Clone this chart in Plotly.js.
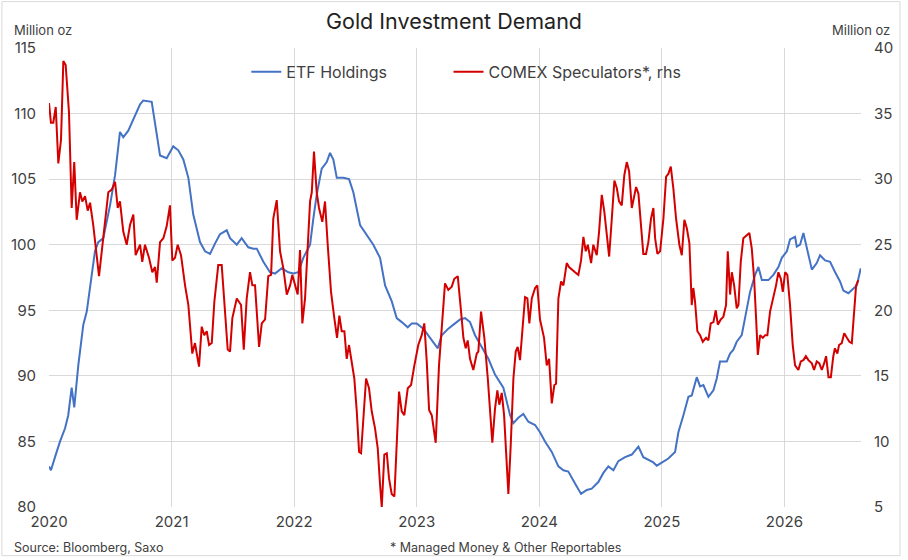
<!DOCTYPE html>
<html>
<head>
<meta charset="utf-8">
<script src="https://cdn.plot.ly/plotly-3.0.1.min.js"></script>
<style>
html,body{margin:0;padding:0;background:#fff;}
#chart{width:908px;height:560px;}
</style>
</head>
<body>
<div id="chart"></div>
<script>
// ETF holdings (Million oz, left axis) - decimal years
const etfYears = [2020.000,2020.016,2020.049,2020.090,2020.131,2020.157,2020.185,2020.206,2020.239,2020.280,2020.308,2020.348,2020.375,2020.402,2020.443,2020.498,2020.539,2020.579,2020.606,2020.647,2020.688,2020.743,2020.769,2020.838,2020.906,2020.960,2021.014,2021.055,2021.096,2021.137,2021.177,2021.232,2021.273,2021.314,2021.355,2021.395,2021.450,2021.477,2021.532,2021.572,2021.626,2021.667,2021.695,2021.749,2021.803,2021.844,2021.899,2021.953,2021.993,2022.034,2022.075,2022.130,2022.157,2022.184,2022.225,2022.266,2022.293,2022.320,2022.348,2022.401,2022.448,2022.483,2022.538,2022.592,2022.646,2022.701,2022.742,2022.796,2022.837,2022.878,2022.927,2022.960,2023.000,2023.054,2023.123,2023.172,2023.204,2023.258,2023.313,2023.354,2023.395,2023.435,2023.476,2023.531,2023.585,2023.639,2023.707,2023.762,2023.789,2023.829,2023.870,2023.911,2023.966,2024.006,2024.047,2024.102,2024.156,2024.197,2024.237,2024.292,2024.341,2024.388,2024.428,2024.482,2024.523,2024.564,2024.605,2024.645,2024.700,2024.755,2024.809,2024.849,2024.890,2024.931,2024.959,2025.013,2025.053,2025.108,2025.135,2025.176,2025.217,2025.244,2025.285,2025.312,2025.339,2025.380,2025.421,2025.448,2025.475,2025.530,2025.557,2025.584,2025.611,2025.652,2025.679,2025.720,2025.761,2025.788,2025.816,2025.869,2025.910,2025.951,2025.979,2026.020,2026.046,2026.087,2026.101,2026.128,2026.155,2026.183,2026.224,2026.264,2026.291,2026.332,2026.373,2026.414,2026.454,2026.481,2026.522,2026.550,2026.591,2026.623];
const etfValues = [83.1,82.8,83.8,85.0,86.0,87.0,89.1,87.6,90.8,93.9,94.9,97.9,99.5,100.2,100.5,103.0,105.3,108.6,108.2,108.7,109.5,110.7,111.0,110.9,106.8,106.6,107.5,107.2,106.5,105.1,102.3,100.2,99.5,99.3,100.1,100.8,101.1,100.5,100.0,100.5,99.8,99.7,99.7,98.7,97.9,97.8,98.2,97.9,97.8,97.9,99.0,100.0,102.0,103.8,105.8,106.3,107.0,106.5,105.1,105.1,105.0,104.0,101.5,100.7,100.0,99.0,96.9,95.7,94.4,94.1,93.7,94.0,94.0,93.6,92.7,92.1,93.1,93.6,94.0,94.3,94.4,94.1,93.1,92.2,91.3,90.1,89.1,87.0,86.4,86.8,87.1,86.5,86.25,85.7,85.0,84.2,83.1,82.8,82.7,81.8,81.0,81.3,81.4,81.9,82.6,83.1,82.8,83.5,83.8,84.0,84.6,83.8,83.6,83.4,83.15,83.5,83.7,84.2,85.7,87.0,88.4,88.5,89.9,89.2,89.3,88.4,88.9,89.8,91.1,91.1,91.7,92.0,92.6,93.1,94.4,96.4,97.7,98.3,97.3,97.3,97.7,98.3,99.0,99.5,100.4,100.6,99.85,100.0,100.9,99.85,98.1,98.6,99.2,98.8,98.7,97.9,97.2,96.5,96.3,96.55,96.9,98.2];

// COMEX speculators (Million oz, right axis) - decimal years
const comexYears = [2020.000,2020.016,2020.035,2020.055,2020.076,2020.098,2020.117,2020.136,2020.163,2020.185,2020.206,2020.226,2020.253,2020.272,2020.294,2020.316,2020.335,2020.361,2020.408,2020.451,2020.484,2020.512,2020.539,2020.561,2020.579,2020.606,2020.634,2020.661,2020.688,2020.707,2020.743,2020.761,2020.783,2020.816,2020.843,2020.865,2020.879,2020.906,2020.933,2020.960,2020.987,2021.006,2021.028,2021.050,2021.077,2021.110,2021.137,2021.169,2021.191,2021.224,2021.246,2021.267,2021.287,2021.306,2021.328,2021.349,2021.381,2021.409,2021.436,2021.458,2021.477,2021.496,2021.532,2021.567,2021.589,2021.613,2021.640,2021.659,2021.681,2021.714,2021.736,2021.763,2021.789,2021.812,2021.830,2021.858,2021.885,2021.912,2021.940,2021.967,2021.985,2022.007,2022.029,2022.048,2022.067,2022.089,2022.111,2022.130,2022.144,2022.162,2022.184,2022.203,2022.230,2022.252,2022.274,2022.301,2022.328,2022.350,2022.369,2022.388,2022.410,2022.429,2022.448,2022.470,2022.491,2022.511,2022.530,2022.546,2022.565,2022.587,2022.611,2022.633,2022.660,2022.682,2022.701,2022.715,2022.736,2022.756,2022.774,2022.796,2022.818,2022.837,2022.856,2022.878,2022.899,2022.927,2022.954,2022.981,2023.013,2023.041,2023.062,2023.082,2023.101,2023.123,2023.155,2023.182,2023.209,2023.231,2023.258,2023.286,2023.307,2023.335,2023.362,2023.381,2023.400,2023.416,2023.435,2023.462,2023.490,2023.503,2023.525,2023.552,2023.580,2023.598,2023.617,2023.639,2023.658,2023.674,2023.694,2023.713,2023.729,2023.748,2023.767,2023.789,2023.808,2023.824,2023.843,2023.862,2023.884,2023.903,2023.919,2023.939,2023.966,2023.984,2024.006,2024.039,2024.061,2024.080,2024.102,2024.123,2024.137,2024.156,2024.178,2024.197,2024.224,2024.243,2024.265,2024.292,2024.319,2024.341,2024.360,2024.379,2024.396,2024.423,2024.441,2024.469,2024.488,2024.510,2024.531,2024.551,2024.570,2024.592,2024.613,2024.633,2024.651,2024.673,2024.694,2024.714,2024.733,2024.755,2024.773,2024.790,2024.809,2024.828,2024.849,2024.871,2024.890,2024.912,2024.931,2024.945,2024.964,2024.986,2025.013,2025.035,2025.053,2025.073,2025.094,2025.116,2025.143,2025.163,2025.184,2025.204,2025.225,2025.244,2025.257,2025.271,2025.290,2025.312,2025.334,2025.361,2025.380,2025.399,2025.421,2025.440,2025.457,2025.481,2025.502,2025.524,2025.538,2025.557,2025.571,2025.590,2025.611,2025.625,2025.644,2025.665,2025.693,2025.714,2025.734,2025.753,2025.769,2025.783,2025.802,2025.824,2025.843,2025.861,2025.883,2025.910,2025.932,2025.951,2025.971,2025.987,2026.006,2026.024,2026.046,2026.068,2026.087,2026.114,2026.134,2026.155,2026.175,2026.196,2026.224,2026.242,2026.264,2026.285,2026.305,2026.324,2026.340,2026.360,2026.379,2026.399,2026.412,2026.432,2026.446,2026.468,2026.488,2026.510,2026.530,2026.550,2026.569,2026.585,2026.603];
const comexValues = [35.8,34.3,34.3,35.5,31.2,33.0,39.0,38.7,35.1,27.8,31.3,26.9,29.0,28.3,28.7,27.6,28.2,26.5,22.6,26.5,29.0,29.2,29.8,27.8,28.3,26.0,25.0,26.5,27.3,24.2,25.0,23.7,25.0,24.0,22.9,23.3,22.1,25.2,25.5,26.4,28.0,23.8,24.0,25.0,24.2,21.9,20.4,16.7,17.5,15.7,18.75,18.1,18.4,17.35,17.5,20.65,23.45,23.45,19.9,17.0,16.85,19.4,20.9,20.4,17.0,20.9,22.9,21.9,21.9,17.2,19.0,19.3,22.6,22.7,27.0,28.4,24.5,23.2,21.2,21.9,22.7,21.9,21.2,24.6,19.0,20.9,24.5,28.3,29.0,32.1,29.0,27.8,26.75,28.3,25.0,21.4,19.4,17.9,19.6,18.4,18.4,16.3,17.35,16.1,14.8,12.3,9.2,9.1,11.8,14.8,14.05,12.3,11.0,9.5,6.7,5.0,9.0,9.1,7.2,6.0,5.8,9.7,13.8,12.3,12.0,14.05,14.3,15.8,17.35,18.1,19.0,16.1,12.4,12.0,9.9,15.8,19.4,22.05,21.55,21.8,22.4,22.6,19.9,17.9,17.1,17.7,16.3,15.45,16.7,16.85,19.9,17.9,14.8,12.3,9.9,12.5,13.9,12.8,13.7,12.0,9.0,6.0,9.7,14.8,16.85,17.2,16.2,18.4,21.0,20.9,19.0,20.9,21.7,21.9,19.3,17.9,15.8,16.3,12.9,14.3,14.4,20.9,22.2,21.9,23.6,23.3,23.1,22.9,22.7,23.8,25.6,24.5,25.0,23.6,25.0,24.2,26.0,28.8,27.5,25.75,24.1,27.0,29.9,29.3,28.3,28.0,30.3,31.3,30.6,27.8,28.5,29.4,28.9,26.5,24.3,24.3,25.2,27.0,27.8,25.5,24.3,24.5,27.0,30.2,30.4,30.95,29.3,27.0,25.0,24.2,26.9,26.25,25.1,20.4,21.7,20.65,18.4,18.1,17.6,17.9,17.7,19.0,19.1,20.0,18.9,19.3,19.5,20.4,24.5,21.2,22.9,21.9,20.15,20.4,23.7,25.5,25.75,25.9,24.7,22.4,19.4,16.6,18.1,17.9,18.1,18.1,19.9,20.9,21.9,22.9,22.4,21.4,22.9,22.7,20.4,17.35,15.8,15.45,16.1,16.2,16.5,16.2,15.95,15.45,16.1,15.95,15.45,15.95,16.5,14.9,14.9,16.5,17.1,16.7,17.35,17.5,18.25,17.9,17.6,17.5,19.9,21.9,22.3];

const xTickVals = [2020,2021,2022,2023,2024,2025,2026];
const xTickLabels = ["2020","2021","2022","2023","2024","2025","2026"];
const leftTicks = [80,85,90,95,100,105,110,115];
const rightTicks = [5,10,15,20,25,30,35,40];

const FONT = "Inter, Roboto, 'Open Sans', Arial, sans-serif";
const TXT = "#404040";
const GRID = "#d9d9d9";

const traces = [
  {x: etfYears, y: etfValues, type: "scatter", mode: "lines", name: "ETF Holdings",
   line: {color: "#4472C4", width: 2}, yaxis: "y", legend: "legend"},
  {x: comexYears, y: comexValues, type: "scatter", mode: "lines", name: "COMEX Speculators*, rhs",
   line: {color: "#D40000", width: 2}, yaxis: "y2", legend: "legend2"}
];

const layout = {
  width: 908, height: 560,
  margin: {l: 49, r: 47, t: 48, b: 53},
  paper_bgcolor: "#fff", plot_bgcolor: "#fff",
  font: {family: FONT, color: TXT, size: 15},
  title: {text: "Gold Investment Demand", x: 0.5, xanchor: "center", y: 0.962, yanchor: "middle",
          font: {family: FONT, size: 21.5, color: "#222"}},
  xaxis: {range: [2020, 2026.625], tickmode: "array", tickvals: xTickVals, ticktext: xTickLabels,
          showgrid: true, gridcolor: GRID, gridwidth: 1, zeroline: false, showline: false,
          ticks: "", tickfont: {size: 15, color: TXT}, ticklabelstandoff: 4, fixedrange: true},
  yaxis: {range: [80, 115], tickmode: "array", tickvals: leftTicks, showgrid: true, gridcolor: GRID,
          zeroline: false, showline: false, ticks: "", tickfont: {size: 15, color: TXT},
          ticklabelstandoff: 12, fixedrange: true},
  yaxis2: {range: [5, 40], tickmode: "array", tickvals: rightTicks, overlaying: "y", side: "right",
           showgrid: false, zeroline: false, showline: false, ticks: "", tickfont: {size: 15, color: TXT},
           ticklabelstandoff: 12, fixedrange: true},
  legend: {x: 0.243, y: 0.948, xanchor: "left", yanchor: "middle", orientation: "h",
           bgcolor: "rgba(0,0,0,0)", font: {size: 16, color: TXT}},
  legend2: {x: 0.492, y: 0.948, xanchor: "left", yanchor: "middle", orientation: "h",
           bgcolor: "rgba(0,0,0,0)", font: {size: 16, color: TXT}},
  showlegend: true,
  annotations: [
    {text: "Million oz", xref: "paper", yref: "paper", x: -0.045, y: 1.04, xanchor: "left", yanchor: "middle",
     showarrow: false, font: {size: 13, color: TXT}},
    {text: "Million oz", xref: "paper", yref: "paper", x: 1.038, y: 1.04, xanchor: "right", yanchor: "middle",
     showarrow: false, font: {size: 13, color: TXT}},
    {text: "Source: Bloomberg, Saxo", xref: "paper", yref: "paper", x: -0.045, y: -0.088, xanchor: "left", yanchor: "middle",
     showarrow: false, font: {size: 12.5, color: TXT}},
    {text: "* Managed Money & Other Reportables", xref: "paper", yref: "paper", x: 0.418, y: -0.088, xanchor: "left", yanchor: "middle",
     showarrow: false, font: {size: 12.5, color: TXT}}
  ],
  shapes: [
    {type: "rect", xref: "paper", yref: "paper", x0: -0.058, x1: 1.048, y0: -0.106, y1: 1.101,
     line: {color: "#d9d9d9", width: 1}, fillcolor: "rgba(0,0,0,0)", layer: "below"}
  ]
};

Plotly.newPlot("chart", traces, layout, {staticPlot: true, displayModeBar: false});
</script>
</body>
</html>
